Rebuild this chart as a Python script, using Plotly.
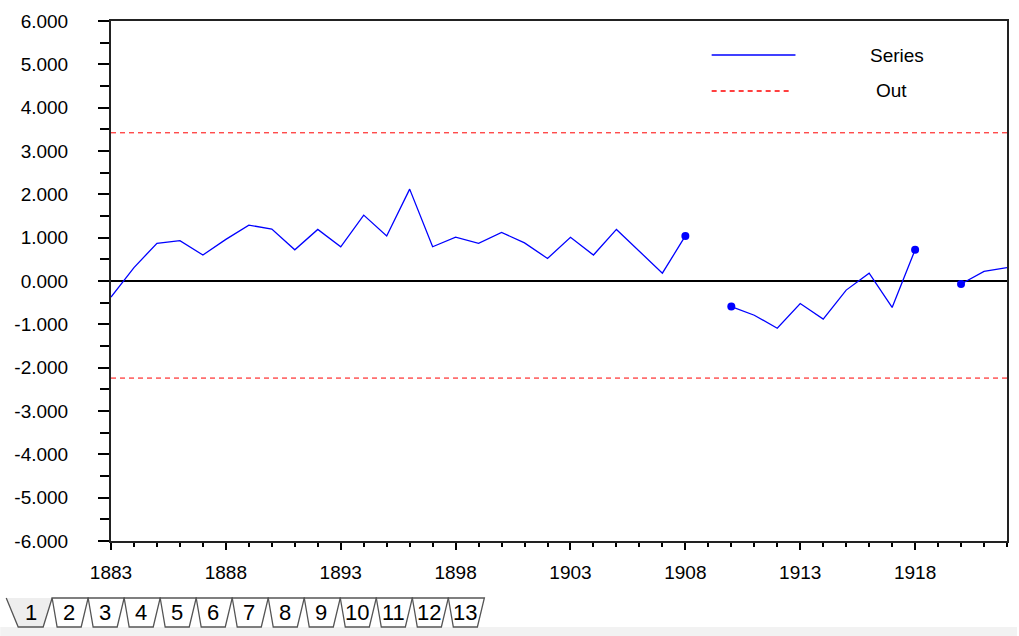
import plotly.graph_objects as go

# ---------------- data ----------------
years = list(range(1883, 1923))
series = [
    -0.37, 0.31, 0.87, 0.93, 0.60, 0.96, 1.29, 1.20, 0.72, 1.19,
    0.79, 1.52, 1.04, 2.12, 0.79, 1.01, 0.87, 1.12, 0.88, 0.52,
    1.01, 0.60, 1.19, 0.69, 0.18, 1.04, None, -0.59, -0.79, -1.09,
    -0.52, -0.88, -0.21, 0.18, -0.61, 0.72, None, -0.07, 0.22, 0.31,
]
out_upper = 3.42
out_lower = -2.24

x_tickvals = [1883, 1888, 1893, 1898, 1903, 1908, 1913, 1918]
x_ticktext = [str(v) for v in x_tickvals]
y_tickvals = [6, 5, 4, 3, 2, 1, 0, -1, -2, -3, -4, -5, -6]
y_ticktext = [f"{v:.3f}" for v in y_tickvals]
tab_labels = [str(i) for i in range(1, 14)]
legend_names = ["Series", "Out"]

# ---------------- geometry helpers (pixel -> paper) ----------------
W, H = 1019, 636
L, R, T, B = 111, 1009, 21, 541
PW, PH = R - L, B - T


def px(x):
    return (x - L) / PW


def py(y):
    return (B - y) / PH


FONT = "Liberation Sans"
BLUE = "#0000ff"
RED = "#ff0000"
FS = 19

fig = go.Figure()

# Out lines
for v in (out_upper, out_lower):
    fig.add_trace(go.Scatter(
        x=[years[0], years[-1]], y=[v, v], mode="lines",
        line=dict(color=RED, width=1, dash="5px,4px"),
        name="Out", showlegend=False, hoverinfo="skip"))

# Series line
fig.add_trace(go.Scatter(
    x=years, y=series, mode="lines", connectgaps=False,
    line=dict(color=BLUE, width=1.3), name="Series", showlegend=False))

# markers on points adjacent to gaps
mx, my = [], []
for i, v in enumerate(series):
    if v is None:
        continue
    prev_gap = i > 0 and series[i - 1] is None
    next_gap = i < len(series) - 1 and series[i + 1] is None
    if prev_gap or next_gap:
        mx.append(years[i])
        my.append(v)
fig.add_trace(go.Scatter(
    x=mx, y=my, mode="markers",
    marker=dict(color=BLUE, size=8, line=dict(width=0)),
    showlegend=False, hoverinfo="skip"))

xr = [years[0], years[-1]]
yr = [-6, 6]

fig.update_layout(
    width=W, height=H,
    margin=dict(l=L, r=W - R, t=T, b=H - B, pad=0),
    paper_bgcolor="white", plot_bgcolor="white",
    font=dict(family=FONT, size=FS, color="#000"),
    showlegend=False,
    xaxis=dict(
        range=xr, tickvals=x_tickvals, ticktext=x_ticktext,
        ticks="outside", ticklen=7, tickwidth=1.5, tickcolor="#000",
        minor=dict(dtick=1, tick0=1883, ticks="outside", ticklen=4,
                   tickwidth=1.5, tickcolor="#000"),
        showline=True, linecolor="#222", linewidth=2, mirror=True,
        showgrid=False, zeroline=False,
        tickfont=dict(family=FONT, size=FS, color="#000"),
        ticklabelstandoff=6,
    ),
    yaxis=dict(
        range=yr, tickvals=y_tickvals, ticktext=y_ticktext,
        ticks="outside", ticklen=11, tickwidth=1.5, tickcolor="#000",
        minor=dict(dtick=0.5, tick0=0, ticks="outside", ticklen=9,
                   tickwidth=1.5, tickcolor="#000"),
        showline=True, linecolor="#222", linewidth=2, mirror=True,
        showgrid=False, zeroline=True, zerolinecolor="#000",
        zerolinewidth=2,
        tickfont=dict(family=FONT, size=FS, color="#000"),
        ticklabelstandoff=26,
    ),
)

shapes = []
annotations = []

# legend (manual, to match the long line samples)
shapes.append(dict(type="line", xref="paper", yref="paper",
                   x0=px(713), x1=px(797), y0=py(55), y1=py(55),
                   line=dict(color=BLUE, width=1.5)))
shapes.append(dict(type="line", xref="paper", yref="paper",
                   x0=px(713), x1=px(792), y0=py(91), y1=py(91),
                   line=dict(color=RED, width=1.3, dash="5px,4px")))
annotations.append(dict(xref="paper", yref="paper", x=px(899), y=py(56),
                        text=legend_names[0], showarrow=False,
                        xanchor="center", yanchor="middle",
                        font=dict(family=FONT, size=FS, color="#000")))
annotations.append(dict(xref="paper", yref="paper", x=px(893), y=py(91),
                        text=legend_names[1], showarrow=False,
                        xanchor="center", yanchor="middle",
                        font=dict(family=FONT, size=FS, color="#000")))

# tab strip background
shapes.append(dict(type="rect", xref="paper", yref="paper",
                   x0=px(0), x1=px(W), y0=py(627), y1=py(H),
                   fillcolor="#f2f2f2", line=dict(width=0), layer="below"))

TAB_TOP, TAB_BOT = 598, 627
step = 36.1
for k, lab in enumerate(tab_labels):
    if k == 0:
        x0t, x1t = 6, 52
        x0b, x1b = 18, 43
        cx = 31
        fill = "#eeeeee"
    else:
        x0t = 52 + step * (k - 1)
        x1t = x0t + step
        x0b = x0t + 5
        x1b = x1t - 7
        cx = (x0t + x1t) / 2 - 1
        fill = "#ffffff"
    path = (f"M {px(x0t)},{py(TAB_TOP)} L {px(x0b)},{py(TAB_BOT)} "
            f"L {px(x1b)},{py(TAB_BOT)} L {px(x1t)},{py(TAB_TOP)}")
    if k > 0:
        path += " Z"
    shapes.append(dict(type="path", xref="paper", yref="paper", path=path,
                       fillcolor=fill, line=dict(color="#555", width=1.3)))
    annotations.append(dict(xref="paper", yref="paper", x=px(cx),
                            y=py(612), text=lab, showarrow=False,
                            xanchor="center", yanchor="middle",
                            font=dict(family=FONT, size=22, color="#000")))

fig.update_layout(shapes=shapes, annotations=annotations)

fig.write_html("out.html", config={"displayModeBar": False},
               post_script="document.body.style.margin='0';")
